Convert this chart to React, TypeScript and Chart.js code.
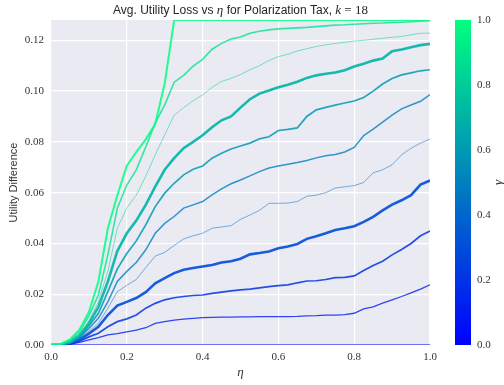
import React, { useEffect, useRef } from 'react';
import { Chart, registerables } from 'chart.js';

Chart.register(...registerables);

// eta grid
const eta = [0, 0.025, 0.05, 0.075, 0.1, 0.125, 0.15, 0.175, 0.2, 0.225, 0.25, 0.275, 0.3, 0.325, 0.35, 0.375, 0.4, 0.425, 0.45, 0.475, 0.5, 0.525, 0.55, 0.575, 0.6, 0.625, 0.65, 0.675, 0.7, 0.725, 0.75, 0.775, 0.8, 0.825, 0.85, 0.875, 0.9, 0.925, 0.95, 0.975, 1.0];

const gammas = [0, 0.1, 0.2, 0.3, 0.4, 0.5, 0.6, 0.7, 0.8, 0.9, 1.0];

const g00 = [0, 0, 0, 0, 0, 0, 0, 0, 0, 0, 0, 0, 0, 0, 0, 0, 0, 0, 0, 0, 0, 0, 0, 0, 0, 0, 0, 0, 0, 0, 0, 0, 0, 0, 0, 0, 0, 0, 0, 0, 0];
const g01 = [0, 0.0001, 0.0003, 0.001, 0.002, 0.0029, 0.004, 0.0045, 0.0052, 0.0059, 0.0068, 0.0085, 0.0092, 0.0098, 0.0102, 0.0105, 0.0108, 0.0109, 0.011, 0.011, 0.0111, 0.0111, 0.0112, 0.0112, 0.0112, 0.0112, 0.0113, 0.0115, 0.0116, 0.0118, 0.0118, 0.012, 0.0125, 0.0142, 0.015, 0.0165, 0.0178, 0.0191, 0.0205, 0.022, 0.0237];
const g02 = [0, 0.0001, 0.0004, 0.0015, 0.0032, 0.0046, 0.0072, 0.0092, 0.0103, 0.0118, 0.0145, 0.0164, 0.0178, 0.0186, 0.0191, 0.0195, 0.0197, 0.0203, 0.0208, 0.0213, 0.0217, 0.022, 0.0225, 0.023, 0.0234, 0.0237, 0.0245, 0.0252, 0.0253, 0.0258, 0.0265, 0.0266, 0.0272, 0.0293, 0.0313, 0.033, 0.0355, 0.0376, 0.04, 0.043, 0.0449];
const g03 = [0, 0.0001, 0.0005, 0.002, 0.0045, 0.0072, 0.0118, 0.0155, 0.017, 0.0185, 0.0208, 0.0243, 0.0263, 0.0283, 0.0296, 0.0303, 0.0309, 0.0315, 0.0325, 0.033, 0.034, 0.0357, 0.0362, 0.0368, 0.0381, 0.0388, 0.0398, 0.0418, 0.0428, 0.044, 0.0453, 0.046, 0.0468, 0.0485, 0.0505, 0.053, 0.0553, 0.057, 0.059, 0.0632, 0.0648];
const g04 = [0, 0.0001, 0.0006, 0.0024, 0.0055, 0.0085, 0.0145, 0.021, 0.0235, 0.0258, 0.0305, 0.035, 0.0365, 0.0392, 0.0418, 0.043, 0.044, 0.046, 0.0465, 0.047, 0.0495, 0.0512, 0.053, 0.0558, 0.0558, 0.0559, 0.0565, 0.0586, 0.059, 0.06, 0.0618, 0.0623, 0.0628, 0.064, 0.0678, 0.069, 0.071, 0.0749, 0.0775, 0.0795, 0.0811];
const g05 = [0, 0.0001, 0.0008, 0.0028, 0.0065, 0.0105, 0.017, 0.025, 0.029, 0.0325, 0.0375, 0.044, 0.0479, 0.0506, 0.0539, 0.0552, 0.0565, 0.0591, 0.0615, 0.0635, 0.065, 0.0666, 0.0683, 0.0697, 0.0705, 0.0712, 0.0719, 0.0727, 0.0737, 0.0745, 0.075, 0.076, 0.0778, 0.0825, 0.085, 0.0878, 0.0905, 0.093, 0.0945, 0.096, 0.0986];
const g06 = [0, 0.0001, 0.001, 0.0032, 0.0075, 0.0125, 0.021, 0.03, 0.036, 0.041, 0.0473, 0.0545, 0.0598, 0.0637, 0.067, 0.0692, 0.0705, 0.0736, 0.0755, 0.0772, 0.0784, 0.0795, 0.0812, 0.082, 0.0845, 0.0849, 0.0855, 0.09, 0.0926, 0.0936, 0.0945, 0.0953, 0.0961, 0.0975, 0.1, 0.1028, 0.105, 0.1064, 0.1072, 0.108, 0.1084];
const g07 = [0, 0.0002, 0.0012, 0.0037, 0.0085, 0.015, 0.025, 0.037, 0.044, 0.049, 0.0552, 0.0624, 0.069, 0.0736, 0.0775, 0.08, 0.0826, 0.0858, 0.0885, 0.09, 0.0935, 0.0968, 0.099, 0.1002, 0.1015, 0.1025, 0.1037, 0.1052, 0.1062, 0.1068, 0.1073, 0.1082, 0.1097, 0.1108, 0.112, 0.1128, 0.1157, 0.1164, 0.1173, 0.1181, 0.1186];
const g08 = [0, 0.0002, 0.0015, 0.0043, 0.0095, 0.017, 0.029, 0.046, 0.054, 0.059, 0.0665, 0.0749, 0.0828, 0.0905, 0.0935, 0.0962, 0.0985, 0.1015, 0.1038, 0.105, 0.1065, 0.1084, 0.11, 0.112, 0.1136, 0.1145, 0.1158, 0.1167, 0.1176, 0.1182, 0.1188, 0.1192, 0.1197, 0.12, 0.1204, 0.1208, 0.1212, 0.1215, 0.1222, 0.1228, 0.1228];
const g09 = [0, 0.0002, 0.0018, 0.005, 0.0115, 0.0197, 0.0355, 0.0539, 0.063, 0.069, 0.078, 0.0874, 0.0946, 0.1035, 0.1062, 0.1098, 0.1125, 0.1165, 0.1188, 0.1205, 0.1213, 0.1228, 0.1236, 0.1241, 0.1245, 0.1247, 0.1249, 0.1251, 0.1254, 0.1257, 0.126, 0.1261, 0.1263, 0.1265, 0.1267, 0.1268, 0.127, 0.1271, 0.1273, 0.1275, 0.1277];
const g10 = [0, 0.0003, 0.0022, 0.006, 0.013, 0.025, 0.046, 0.059, 0.0705, 0.076, 0.081, 0.087, 0.103, 0.128, 0.128, 0.128, 0.128, 0.128, 0.128, 0.128, 0.128, 0.128, 0.128, 0.128, 0.128, 0.128, 0.128, 0.128, 0.128, 0.128, 0.128, 0.128, 0.128, 0.128, 0.128, 0.128, 0.128, 0.128, 0.128, 0.128, 0.128];

const series = [g00, g01, g02, g03, g04, g05, g06, g07, g08, g09, g10];

const xTickStep = 0.2;
const yTickStep = 0.02;
const cbTickStep = 0.2;
const yMax = 0.128;

const lineWidths = [1.6, 1.3, 1.7, 2.6, 1.0, 1.5, 1.7, 2.6, 1.0, 1.6, 2.0];
const alphas = [0.75, 0.8, 0.85, 0.9, 0.5, 0.8, 0.85, 0.9, 0.5, 0.8, 0.85];

function winter(t: number, a: number) {
  return `rgba(0, ${Math.round(255 * t)}, ${Math.round(255 - 127.5 * t)}, ${a})`;
}

const SANS = '"Liberation Sans", Arial, sans-serif';
const SERIF = '"Liberation Serif", "Times New Roman", serif';

export default function App() {
  const ref = useRef<HTMLCanvasElement | null>(null);

  useEffect(() => {
    if (!ref.current) return;

    const bgPlugin = {
      id: 'bg',
      beforeDraw(chart: any) {
        const { ctx, chartArea } = chart;
        ctx.save();
        ctx.fillStyle = '#EAEAF2';
        ctx.fillRect(chartArea.left, chartArea.top, chartArea.right - chartArea.left, chartArea.bottom - chartArea.top);
        ctx.restore();
      },
      afterDraw(chart: any) {
        const { ctx, chartArea } = chart;
        ctx.save();
        // colorbar
        const cbX = chartArea.right + 25;
        const cbW = 16;
        const grad = ctx.createLinearGradient(0, chartArea.bottom, 0, chartArea.top);
        for (let i = 0; i <= 10; i++) {
          grad.addColorStop(i / 10, winter(i / 10, 1));
        }
        ctx.fillStyle = grad;
        ctx.fillRect(cbX, chartArea.top, cbW, chartArea.bottom - chartArea.top);
        // gamma label
        ctx.fillStyle = '#333';
        ctx.font = `italic 13px ${SERIF}`;
        ctx.textAlign = 'center';
        ctx.textBaseline = 'middle';
        ctx.translate(499, (chartArea.top + chartArea.bottom) / 2);
        ctx.rotate(-Math.PI / 2);
        ctx.fillText('γ', 0, 0);
        ctx.restore();

        // title with mixed fonts
        ctx.save();
        const segs = [
          { t: 'Avg. Utility Loss vs ', f: `12px ${SANS}` },
          { t: 'η', f: `italic 13px ${SERIF}` },
          { t: ' for Polarization Tax, ', f: `12px ${SANS}` },
          { t: 'k', f: `italic 13px ${SERIF}` },
          { t: ' = 18', f: `13px ${SERIF}` },
        ];
        let total = 0;
        const widths = segs.map((s) => {
          ctx.font = s.f;
          const w = ctx.measureText(s.t).width;
          total += w;
          return w;
        });
        let x = (chartArea.left + chartArea.right) / 2 - total / 2;
        ctx.fillStyle = '#262626';
        ctx.textBaseline = 'alphabetic';
        ctx.textAlign = 'left';
        segs.forEach((s, i) => {
          ctx.font = s.f;
          ctx.fillText(s.t, x, 14);
          x += widths[i];
        });
        ctx.restore();
      },
    };

    const datasets = series
      .map((s, i) => ({
        label: `γ=${gammas[i]}`,
        data: eta.map((x, j) => ({ x, y: s[j] })),
        borderColor: winter(gammas[i], alphas[i]),
        borderWidth: lineWidths[i],
        pointRadius: 0,
        tension: 0,
        fill: false,
        clip: 0,
      }))
      .reverse();

    const chart = new Chart(ref.current, {
      type: 'line',
      data: { datasets },
      options: {
        animation: false,
        responsive: false,
        devicePixelRatio: 1,
        layout: { padding: { top: 20, left: 0, right: 0, bottom: 0 } },
        plugins: {
          legend: { display: false },
          tooltip: { enabled: false },
          title: { display: false },
        },
        scales: {
          x: {
            type: 'linear',
            position: 'bottom',
            min: 0,
            max: 1,
            grid: { color: '#FFFFFF', lineWidth: 1.2, drawTicks: false },
            border: { display: false },
            ticks: {
              stepSize: xTickStep,
              includeBounds: false,
              padding: 6,
              color: '#333',
              font: { family: SERIF, size: 11 },
              callback: (v: any) => Number(v).toFixed(1),
            },
            title: {
              display: true,
              text: 'η',
              color: '#333',
              font: { family: SERIF, size: 13, style: 'italic' },
              padding: { top: 0, bottom: 5 },
            },
            afterFit: (s: any) => {
              s.height = 40;
              s.paddingLeft = 0;
              s.paddingRight = 0;
            },
          },
          y: {
            type: 'linear',
            position: 'left',
            min: 0,
            max: yMax,
            grid: { color: '#FFFFFF', lineWidth: 1.2, drawTicks: false },
            border: { display: false },
            ticks: {
              stepSize: yTickStep,
              includeBounds: false,
              padding: 7,
              color: '#333',
              font: { family: SERIF, size: 11 },
              callback: (v: any) => Number(v).toFixed(2),
            },
            title: {
              display: true,
              text: 'Utility Difference',
              color: '#333',
              font: { family: SANS, size: 11 },
              padding: { top: 7, bottom: 0 },
            },
            afterFit: (s: any) => {
              s.width = 51;
              s.paddingTop = 0;
              s.paddingBottom = 0;
            },
          },
          cb: {
            type: 'linear',
            position: 'right',
            min: 0,
            max: 1,
            grid: { display: false, drawTicks: false },
            border: { display: false },
            ticks: {
              stepSize: cbTickStep,
              padding: 47,
              color: '#333',
              font: { family: SERIF, size: 11 },
              callback: (v: any) => Number(v).toFixed(1),
            },
            afterFit: (s: any) => {
              s.width = 74;
              s.paddingTop = 0;
              s.paddingBottom = 0;
            },
          },
        },
      },
      plugins: [bgPlugin],
    } as any);

    return () => chart.destroy();
  }, []);

  return (
    <div style={{ position: 'fixed', left: 0, top: 0, width: 504, height: 385, background: '#fff' }}>
      <canvas ref={ref} width={504} height={385} style={{ width: 504, height: 385 }} />
    </div>
  );
}
